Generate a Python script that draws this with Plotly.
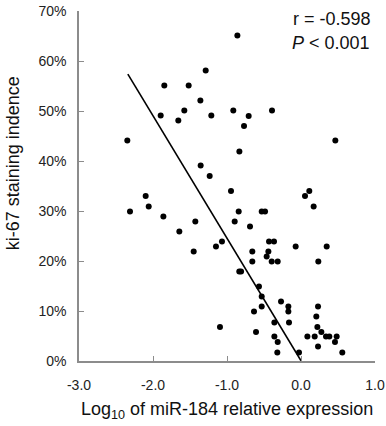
import plotly.graph_objects as go

# Data
log_expr = [-1.288, -1.847, -1.518, -1.36, -1.577, -1.896, -1.658, -1.212, -2.347, -1.356,
            -1.234, -0.86, -0.915, -0.707, -0.77, -0.392, -0.833, 0.464, -0.946, 0.054,
            0.112, 0.171, -2.099, -2.311, -2.058, -1.86, -1.644, -1.428, -1.45, -1.149,
            -1.068, -1.095, -0.842, -0.896, -0.689, -0.531, -0.486, -0.432, -0.365, -0.658,
            -0.441, -0.464, -0.072, 0.347, -0.658, -0.396, -0.315, 0.234, -0.834, -0.81,
            -0.568, -0.531, -0.27, -0.171, -0.531, -0.171, -0.635, 0.23, 0.207, -0.36,
            -0.162, 0.221, 0.275, -0.608, -0.36, -0.315, 0.086, 0.185, 0.338, 0.383,
            0.482, 0.459, 0.23, -0.32, -0.027, 0.558]
ki67 = [58.1, 55.1, 55.1, 52.1, 50.1, 49.1, 48.1, 49.1, 44.1, 39.1,
        37.0, 65.1, 50.1, 49.0, 47.0, 50.1, 41.9, 44.1, 34.0, 33.0,
        34.0, 30.9, 33.0, 29.9, 30.9, 28.9, 25.9, 27.9, 21.9, 22.9,
        23.9, 6.8, 29.9, 27.9, 26.9, 29.9, 29.9, 23.9, 23.9, 21.9,
        21.9, 20.9, 22.9, 22.9, 19.9, 19.9, 19.9, 19.9, 17.9, 17.9,
        14.9, 12.9, 11.9, 10.9, 10.9, 9.9, 9.9, 10.9, 8.9, 7.7,
        7.7, 6.8, 5.8, 5.8, 4.9, 3.8, 4.9, 4.9, 4.9, 4.9,
        4.9, 3.8, 2.9, 1.7, 1.7, 1.7]
fit_slope = -24.5
fit_intercept = 0.05
fit_x = [-2.34, 0.0]
fit_y = [fit_intercept + fit_slope * v for v in fit_x]

x_ticks = [-3, -2, -1, 0, 1]
x_ticklabels = ["-3.0", "-2.0", "-1.0", "0.0", "1.0"]
y_ticks = [0, 10, 20, 30, 40, 50, 60, 70]
y_ticklabels = ["0%", "10%", "20%", "30%", "40%", "50%", "60%", "70%"]

font = "Liberation Sans, Arial, sans-serif"

fig = go.Figure()
fig.add_trace(go.Scatter(x=fit_x, y=fit_y, mode="lines",
                         line=dict(color="black", width=1.6), hoverinfo="skip"))
fig.add_trace(go.Scatter(x=log_expr, y=ki67, mode="markers",
                         marker=dict(color="black", size=6, line=dict(width=0))))

axis_common = dict(showgrid=False, zeroline=False, showline=True, linecolor="#8c8c8c",
                   linewidth=1.5, ticks="inside", ticklen=5, tickcolor="#8c8c8c",
                   tickwidth=1.2, automargin=False,
                   tickfont=dict(family=font, size=14, color="#222"))

fig.update_xaxes(range=[-3, 1], tickvals=x_ticks, ticktext=x_ticklabels,
                 ticklabelstandoff=10, **axis_common)
fig.update_yaxes(range=[0, 70], tickvals=y_ticks, ticktext=y_ticklabels,
                 ticklabelstandoff=8, **axis_common)

fig.add_annotation(text="Log<sub>10</sub> of miR-184 relative expression", xref="paper",
                   yref="paper", x=0.5, y=-0.14, showarrow=False, xanchor="center",
                   yanchor="middle", font=dict(family=font, size=18, color="#111"))
fig.add_annotation(text="ki-67 staining indence", textangle=-90, xref="paper", yref="paper",
                   x=-0.225, y=0.566, showarrow=False, xanchor="center", yanchor="middle",
                   font=dict(family=font, size=18, color="#111"))
fig.add_annotation(text="r = -0.598", xref="paper", yref="paper", x=0.993, y=0.977,
                   showarrow=False, xanchor="right", yanchor="middle",
                   font=dict(family=font, size=18, color="#111"))
fig.add_annotation(text="<i>P</i> < 0.001", xref="paper", yref="paper", x=0.99, y=0.909,
                   showarrow=False, xanchor="right", yanchor="middle",
                   font=dict(family=font, size=18, color="#111"))

fig.update_layout(width=386, height=426, margin=dict(l=79, r=11, t=11, b=65),
                  plot_bgcolor="white", paper_bgcolor="white", showlegend=False)

fig.write_html("out.html")
